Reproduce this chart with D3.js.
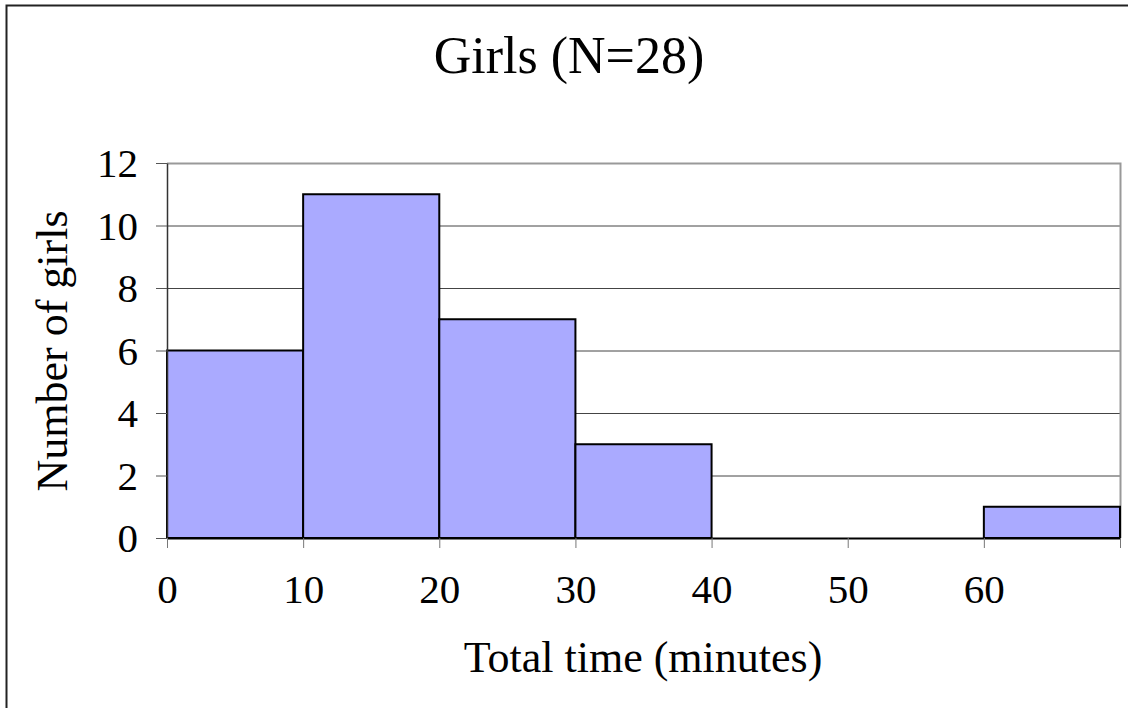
<!DOCTYPE html>
<html>
<head>
<meta charset="utf-8">
<script src="https://cdn.jsdelivr.net/npm/d3@7"></script>
<style>
  body { margin: 0; background: #fff; }
  text { font-family: "Liberation Serif", "Times New Roman", serif; fill: #000; }
</style>
</head>
<body>
<svg id="chart" width="1128" height="708"></svg>
<script>
// histogram bins (minutes) and counts
var binStarts = [0, 10, 20, 30, 40, 50, 60]
var binWidth = 10
var counts = [6, 11, 7, 3, 0, 0, 1]
var xTicks = [0, 10, 20, 30, 40, 50, 60]
var yTicks = [0, 2, 4, 6, 8, 10, 12]
var title = "Girls (N=28)"
var xTitle = "Total time (minutes)"
var yTitle = "Number of girls"

var svg = d3.select("#chart")

// outer frame
svg.append("rect")
    .attr("x", 6.5).attr("y", 5.5)
    .attr("width", 1140).attr("height", 720)
    .attr("fill", "none")
    .attr("stroke", "#222")
    .attr("stroke-width", 2)

var x = d3.scaleLinear().domain([0, 70]).range([167, 1120])
var y = d3.scaleLinear().domain([0, 12]).range([538, 163])

// grid lines
svg.append("g")
    .selectAll("line")
    .data(yTicks.slice(1, -1))
    .enter()
    .append("line")
    .attr("x1", x(0)).attr("x2", x(70))
    .attr("y1", d => y(d) + 0.5).attr("y2", d => y(d) + 0.5)
    .attr("stroke", "#444")
    .attr("stroke-width", 1)

// top and right plot border
svg.append("path")
    .attr("d", "M" + x(0) + "," + (y(12) + 0.5) + "H" + (x(70) + 0.5) + "V" + y(0))
    .attr("fill", "none")
    .attr("stroke", "#999")
    .attr("stroke-width", 2)

// bars
svg.append("g")
    .selectAll("rect")
    .data(counts.map((c, i) => ({start: binStarts[i], count: c})).filter(d => d.count > 0))
    .enter()
    .append("rect")
    .attr("x", d => x(d.start))
    .attr("y", d => y(d.count))
    .attr("width", d => x(d.start + binWidth) - x(d.start))
    .attr("height", d => y(0) - y(d.count))
    .attr("fill", "#aaaaff")
    .attr("stroke", "#000")
    .attr("stroke-width", 2)

// y axis
var yAxis = d3.axisLeft(y).tickValues(yTicks).tickSize(11).tickPadding(18).tickSizeOuter(0)
var gy = svg.append("g")
    .attr("transform", "translate(" + x(0) + ",0)")
    .call(yAxis)
gy.select(".domain").attr("stroke", "#333").attr("stroke-width", 1.5)
gy.selectAll(".tick line").attr("stroke", "#555")
gy.selectAll(".tick text")
    .attr("font-size", 41)
    .attr("font-family", "Liberation Serif, Times New Roman, serif")
    .attr("dy", "0.34em")

// x axis
var xAxis = d3.axisBottom(x).tickValues(xTicks.concat([70])).tickSize(10).tickPadding(26).tickSizeOuter(0)
    .tickFormat(d => d === 70 ? "" : d)
var gx = svg.append("g")
    .attr("transform", "translate(0," + y(0) + ")")
    .call(xAxis)
gx.select(".domain").attr("stroke", "#000").attr("stroke-width", 2)
gx.selectAll(".tick line").attr("stroke", "#777")
gx.selectAll(".tick text")
    .attr("font-size", 41)
    .attr("font-family", "Liberation Serif, Times New Roman, serif")

// titles
svg.append("text")
    .attr("x", 569).attr("y", 73)
    .attr("text-anchor", "middle")
    .attr("font-size", 52)
    .text(title)

svg.append("text")
    .attr("x", 643).attr("y", 672)
    .attr("text-anchor", "middle")
    .attr("font-size", 44)
    .text(xTitle)

svg.append("text")
    .attr("transform", "translate(67,351) rotate(-90)")
    .attr("text-anchor", "middle")
    .attr("font-size", 44)
    .text(yTitle)
</script>
</body>
</html>
